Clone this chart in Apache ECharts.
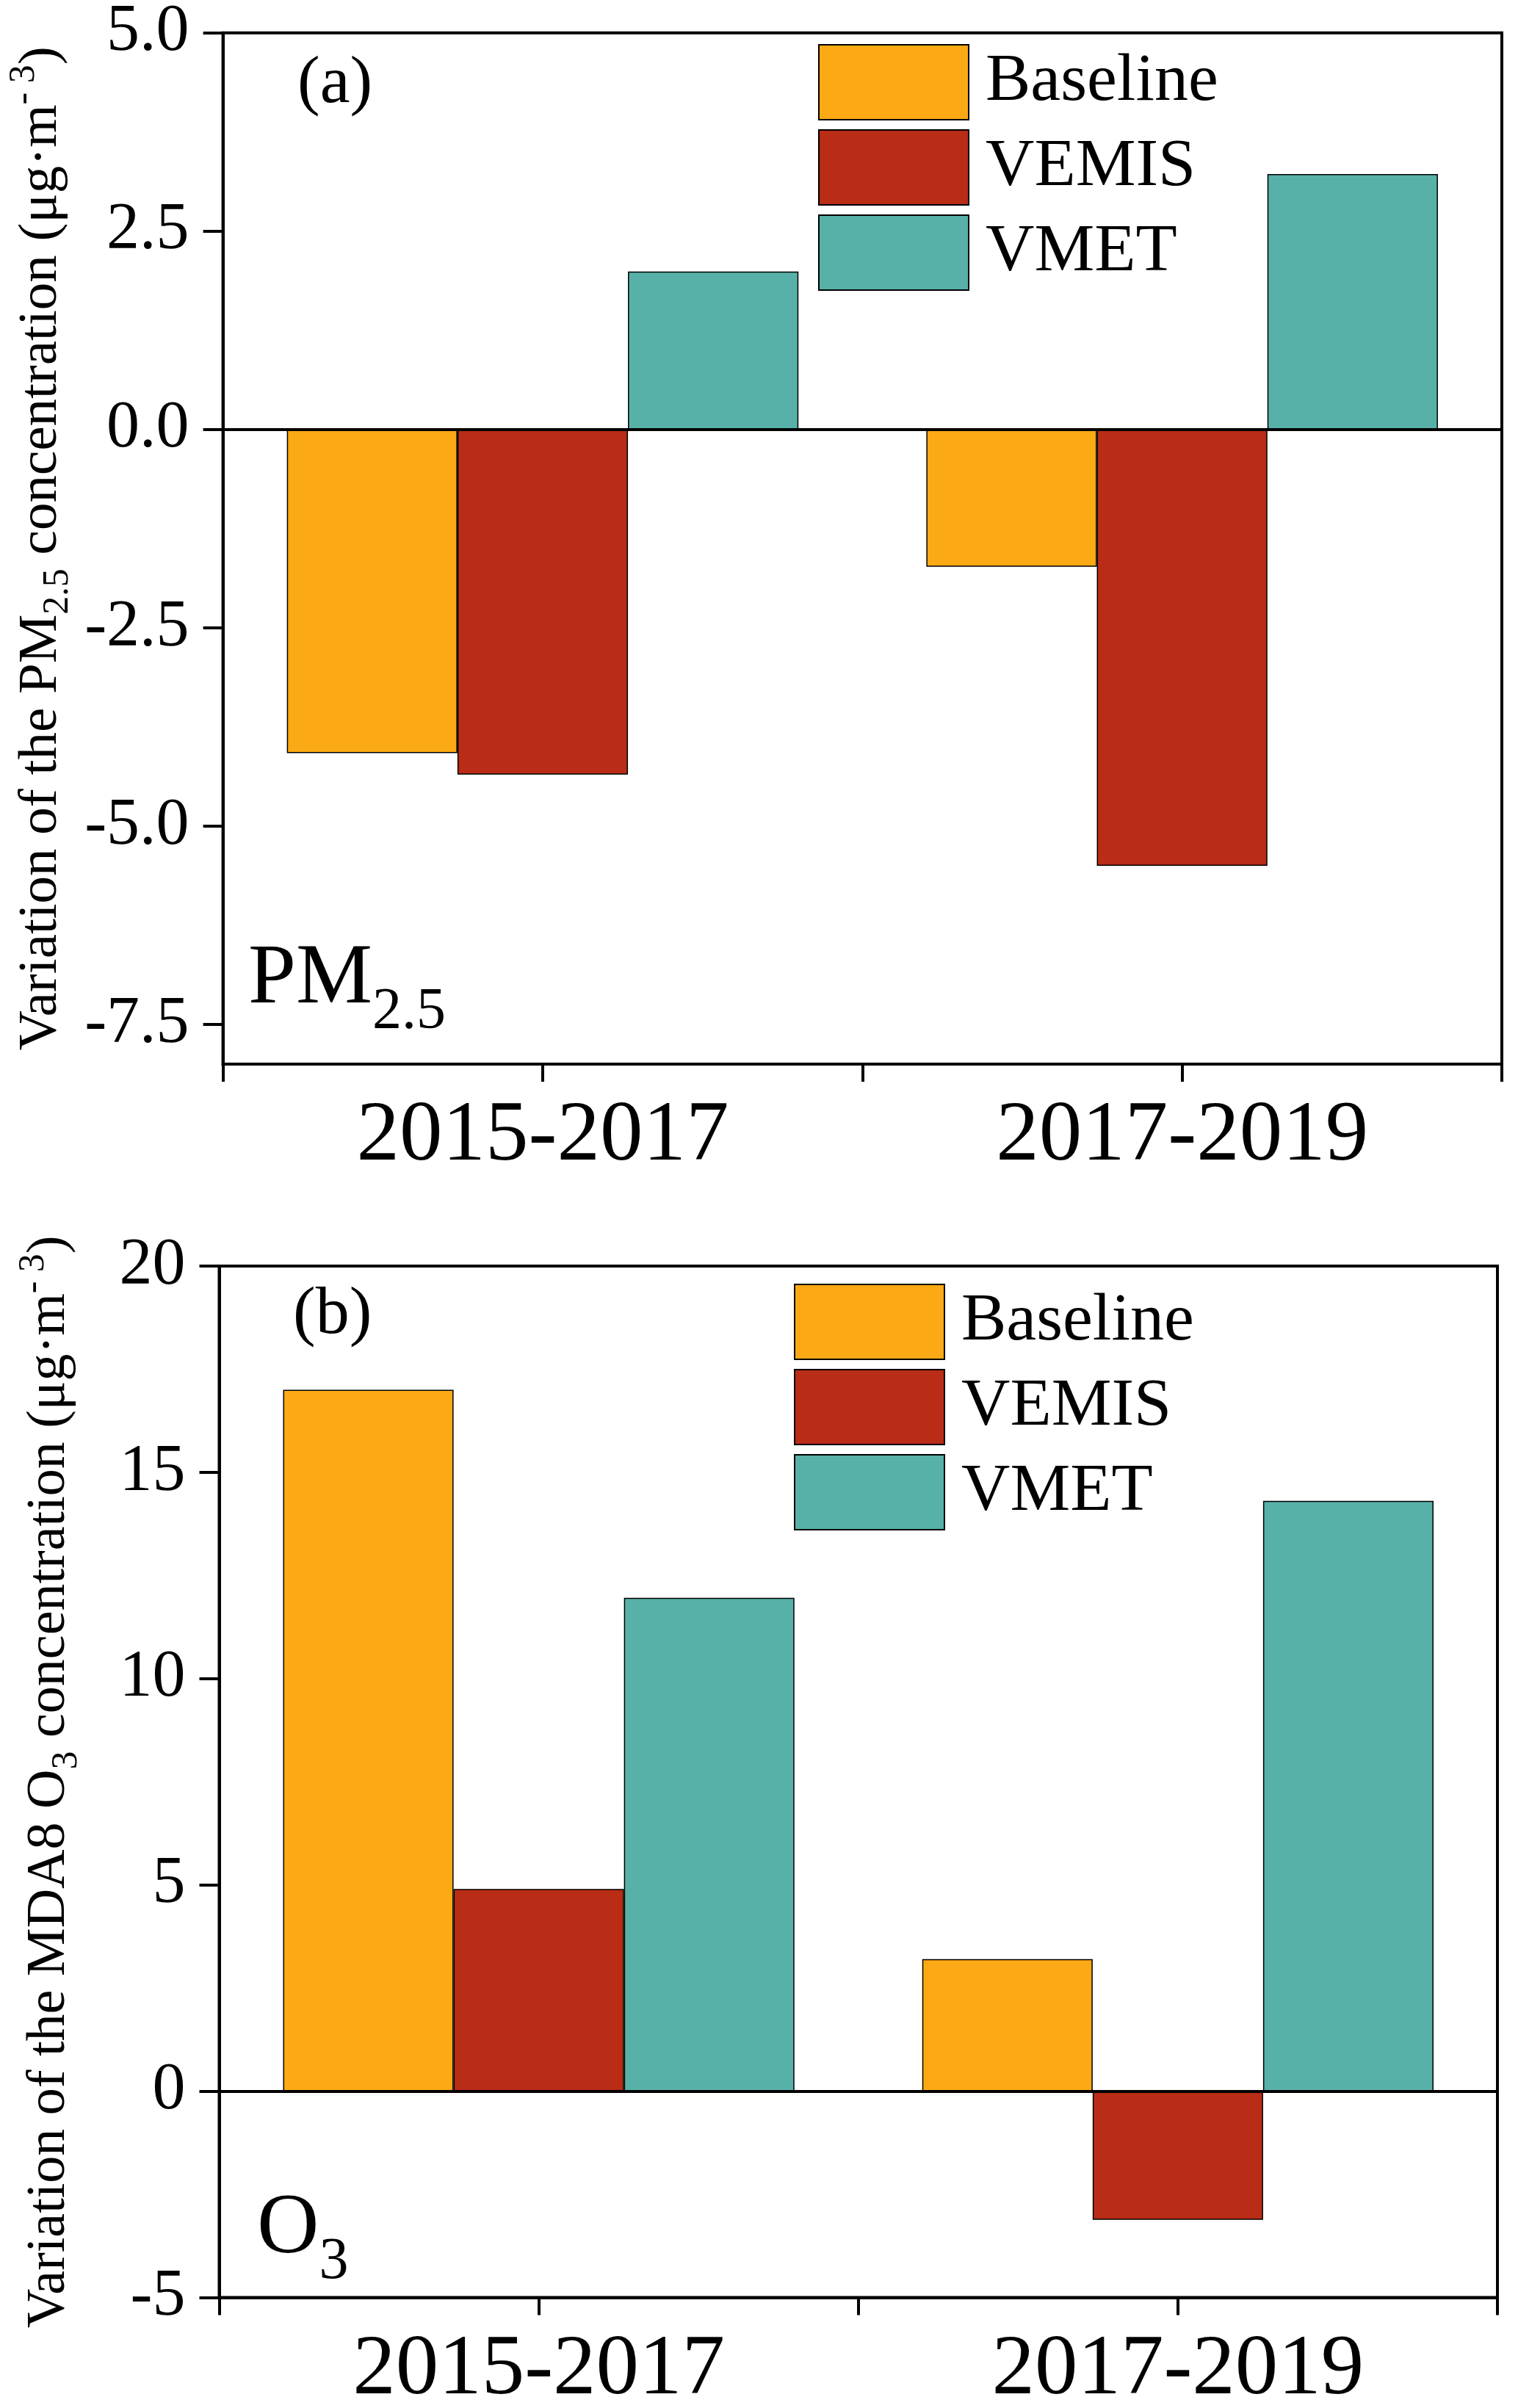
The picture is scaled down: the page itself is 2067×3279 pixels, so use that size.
<!DOCTYPE html>
<html>
<head>
<meta charset="utf-8">
<script src="https://cdn.jsdelivr.net/npm/echarts@6/dist/echarts.min.js"></script>
<style>
html,body{margin:0;padding:0;background:#fff;}
#chart{width:2067px;height:3279px;}
</style>
</head>
<body>
<div id="chart"></div>
<script>
// ---- data ----
const categories = ['2015-2017', '2017-2019'];
const seriesNames = ['Baseline', 'VEMIS', 'VMET'];
const pmBaseline = [-4.08, -1.73];
const pmVEMIS = [-4.35, -5.50];
const pmVMET = [1.99, 3.22];
const o3Baseline = [17.0, 3.2];
const o3VEMIS = [4.9, -3.12];
const o3VMET = [11.96, 14.31];
const pmTicks = [-7.5, -5.0, -2.5, 0.0, 2.5, 5.0];
const o3Ticks = [-5, 0, 5, 10, 15, 20];

const colors = ['#FBA915', '#B92C16', '#57B1A9'];
const FONT = '"Liberation Serif", "Times New Roman", serif';

const chart = echarts.init(document.getElementById('chart'), null, {renderer: 'canvas'});

const gridA = {left: 303.6, top: 44.7, width: 1741.4, height: 1404.3};
const gridB = {left: 298.5, top: 1724, width: 1740.5, height: 1404.4};

function gridCfg(g) {
  return Object.assign({show: true, borderColor: '#000', borderWidth: 4, backgroundColor: 'transparent',
    containLabel: false, outerBoundsMode: 'none'}, g);
}

function xAxesFor(gi) {
  return [
    {
      gridIndex: gi, type: 'category', data: categories, position: 'bottom',
      axisLine: {show: true, onZero: false, lineStyle: {color: '#000', width: 4}},
      axisTick: {show: true, inside: false, length: 24, lineStyle: {color: '#000', width: 4}},
      axisLabel: {show: true, fontSize: 117, lineHeight: 117, fontFamily: FONT, color: '#000', margin: 41},
      splitLine: {show: false}
    },
    {
      gridIndex: gi, type: 'category', data: categories, position: 'bottom',
      axisLine: {show: false, onZero: false},
      axisTick: {show: true, alignWithLabel: true, inside: false, length: 24, lineStyle: {color: '#000', width: 4}},
      axisLabel: {show: false},
      splitLine: {show: false}
    }
  ];
}

function nameRich(fs) {
  const s = Math.round(fs * 0.67);
  return {
    m: {fontSize: fs, lineHeight: Math.round(fs * 1.28), verticalAlign: 'middle', fontFamily: FONT, color: '#000'},
    sub: {fontSize: s, lineHeight: s, verticalAlign: 'bottom', fontFamily: FONT, color: '#000'},
    sup: {fontSize: s, lineHeight: s, verticalAlign: 'top', fontFamily: FONT, color: '#000'}
  };
}

function yAxisCfg(gi, min, max, ticks, fmt, name, gap, fs) {
  return {
    gridIndex: gi, type: 'value', min: min, max: max,
    axisLine: {show: true, onZero: false, lineStyle: {color: '#000', width: 4}},
    axisTick: {show: true, inside: false, length: 27, lineStyle: {color: '#000', width: 4}, customValues: ticks},
    axisLabel: {show: true, fontSize: 90, fontFamily: FONT, color: '#000', margin: 46, customValues: ticks, formatter: fmt},
    splitLine: {show: false},
    name: name, nameLocation: 'middle', nameRotate: 90, nameGap: gap,
    nameTextStyle: {fontSize: fs, fontFamily: FONT, color: '#000', rich: nameRich(fs)}
  };
}

function barSeries(name, data, xi, yi, color, withZero) {
  const s = {
    name: name, type: 'bar', xAxisIndex: xi, yAxisIndex: yi, data: data,
    barCategoryGap: '20%', barGap: '0%',
    itemStyle: {color: color, borderColor: '#000', borderWidth: 1.5},
    emphasis: {disabled: true}
  };
  if (withZero) {
    s.markLine = {
      silent: true, symbol: 'none', label: {show: false},
      lineStyle: {color: '#000', width: 4, type: 'solid'},
      data: [{yAxis: 0}], animation: false
    };
  }
  return s;
}

function legendCfg(left, top) {
  return {
    orient: 'vertical', left: left, top: top, padding: 0,
    itemWidth: 204, itemHeight: 102, itemGap: 12, icon: 'rect',
    itemStyle: {borderColor: '#000', borderWidth: 2},
    textStyle: {fontSize: 92, fontFamily: FONT, color: '#000', padding: [0, 0, 0, 18]},
    data: seriesNames, selectedMode: false
  };
}

const annRich = {
  m: {fontSize: 117, lineHeight: 169, verticalAlign: 'middle', fontFamily: FONT, fill: '#000'},
  s: {fontSize: 80, lineHeight: 80, verticalAlign: 'bottom', fontFamily: FONT, fill: '#000'}
};

const option = {
  backgroundColor: '#fff',
  animation: false,
  color: colors,
  grid: [gridCfg(gridA), gridCfg(gridB)],
  xAxis: xAxesFor(0).concat(xAxesFor(1)),
  yAxis: [
    yAxisCfg(0, -8, 5, pmTicks, v => v.toFixed(1),
      '{m|Variation of the PM}{sub|2.5}{m| concentration (μg·m}{sup|- 3}{m|)}', 188, 75),
    yAxisCfg(1, -5, 20, o3Ticks, v => String(v),
      '{m|Variation of the MDA8 O}{sub|3}{m| concentration (μg·m}{sup|- 3}{m|)}', 183, 74)
  ],
  legend: [legendCfg(1114, 60), legendCfg(1081, 1748)],
  series: [
    barSeries(seriesNames[0], pmBaseline, 0, 0, colors[0], true),
    barSeries(seriesNames[1], pmVEMIS, 0, 0, colors[1], false),
    barSeries(seriesNames[2], pmVMET, 0, 0, colors[2], false),
    barSeries(seriesNames[0], o3Baseline, 2, 1, colors[0], true),
    barSeries(seriesNames[1], o3VEMIS, 2, 1, colors[1], false),
    barSeries(seriesNames[2], o3VMET, 2, 1, colors[2], false)
  ],
  graphic: [
    {type: 'text', x: 405, y: 115, z: 100,
     style: {text: '(a)', fontSize: 92, fontFamily: FONT, fill: '#000', align: 'left', verticalAlign: 'middle'}},
    {type: 'text', x: 399, y: 1791, z: 100,
     style: {text: '(b)', fontSize: 92, fontFamily: FONT, fill: '#000', align: 'left', verticalAlign: 'middle'}},
    {type: 'text', x: 338, y: 1249.6, z: 100,
     style: {text: '{m|PM}{s|2.5}', rich: annRich, align: 'left', verticalAlign: 'top', fontSize: 117, fontFamily: FONT}},
    {type: 'text', x: 350, y: 2952, z: 100,
     style: {text: '{m|O}{s|3}', rich: annRich, align: 'left', verticalAlign: 'top', fontSize: 117, fontFamily: FONT}}
  ]
};

chart.setOption(option);
</script>
</body>
</html>
